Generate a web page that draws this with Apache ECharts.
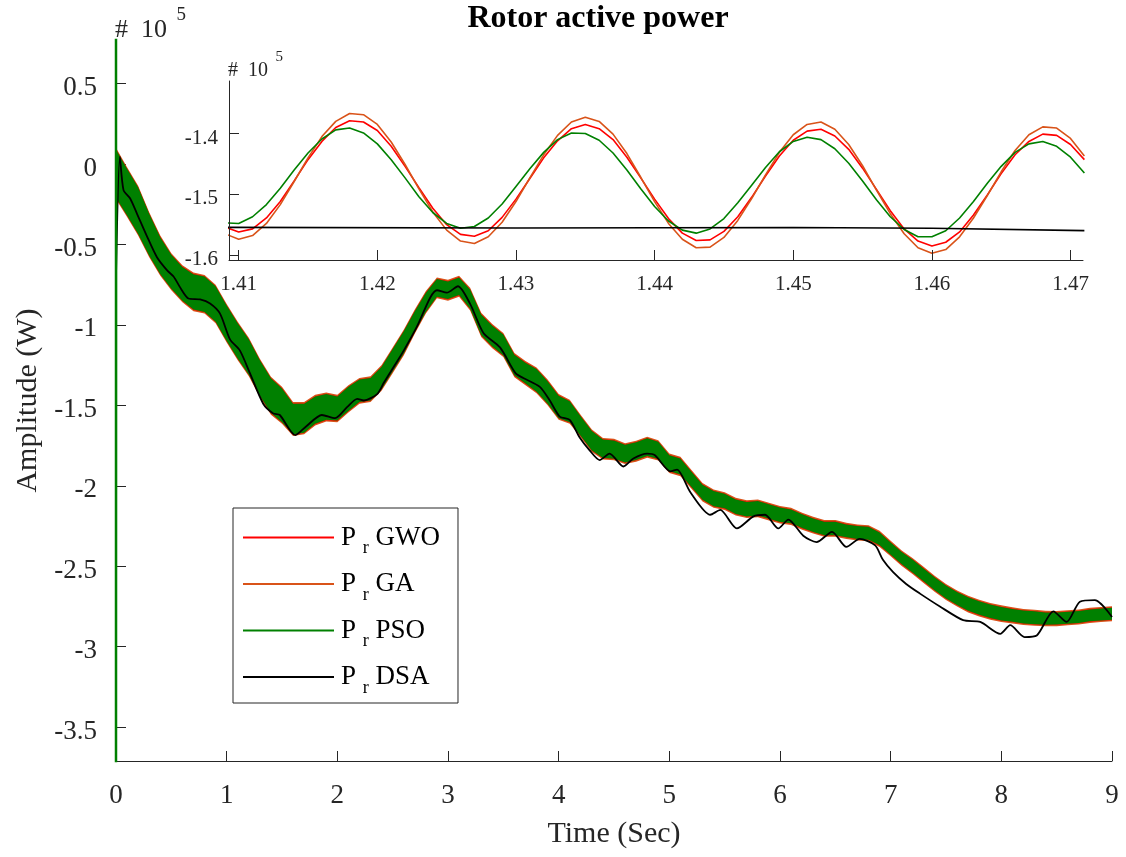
<!DOCTYPE html>
<html>
<head>
<meta charset="utf-8">
<title>Rotor active power</title>
<script src="https://cdn.jsdelivr.net/npm/echarts@6/dist/echarts.min.js"></script>
<style>
  html, body { margin: 0; padding: 0; background: #fff; }
  #chart { width: 1126px; height: 857px; }
</style>
</head>
<body>
<div id="chart"></div>
<script>
// values in units of 10^5 W
var bandTime = [0, 0.1, 0.2, 0.3, 0.4, 0.5, 0.6, 0.7, 0.8, 0.9,
  1, 1.1, 1.2, 1.3, 1.4, 1.5, 1.6, 1.7, 1.8, 1.9,
  2, 2.1, 2.2, 2.3, 2.4, 2.5, 2.6, 2.7, 2.8, 2.9,
  3, 3.1, 3.2, 3.3, 3.4, 3.5, 3.6, 3.7, 3.8, 3.9,
  4, 4.1, 4.2, 4.3, 4.4, 4.5, 4.6, 4.7, 4.8, 4.9,
  5, 5.1, 5.2, 5.3, 5.4, 5.5, 5.6, 5.7, 5.8, 5.9,
  6, 6.1, 6.2, 6.3, 6.4, 6.5, 6.6, 6.7, 6.8, 6.9,
  7, 7.1, 7.2, 7.3, 7.4, 7.5, 7.6, 7.7, 7.8, 7.9,
  8, 8.1, 8.2, 8.3, 8.4, 8.5, 8.6, 8.7, 8.8, 8.9,
  9];
// middle of the 60 Hz oscillation band (GWO / GA / PSO)
var bandMid = [-0.06, -0.175, -0.29, -0.44, -0.57, -0.67, -0.745, -0.795, -0.81, -0.87,
  -0.99, -1.10, -1.20, -1.33, -1.44, -1.50, -1.585, -1.58, -1.53, -1.51,
  -1.52, -1.46, -1.41, -1.40, -1.33, -1.22, -1.11, -0.98, -0.86, -0.77,
  -0.785, -0.76, -0.84, -1.00, -1.07, -1.125, -1.25, -1.30, -1.345, -1.42,
  -1.51, -1.54, -1.63, -1.72, -1.77, -1.775, -1.80, -1.785, -1.76, -1.78,
  -1.86, -1.88, -1.96, -2.04, -2.08, -2.095, -2.13, -2.145, -2.14, -2.16,
  -2.18, -2.19, -2.22, -2.245, -2.265, -2.265, -2.28, -2.29, -2.295, -2.33,
  -2.39, -2.45, -2.50, -2.555, -2.61, -2.66, -2.70, -2.735, -2.76, -2.78,
  -2.795, -2.805, -2.815, -2.82, -2.825, -2.825, -2.82, -2.815, -2.805, -2.80,
  -2.795];
// half height of the oscillation band of each method
var gaHalf = [0.16, 0.155, 0.155, 0.14, 0.125, 0.115, 0.115, 0.12, 0.12, 0.12,
  0.12, 0.12, 0.12, 0.12, 0.118, 0.115, 0.105, 0.10, 0.095, 0.09,
  0.085, 0.085, 0.08, 0.08, 0.08, 0.08, 0.08, 0.075, 0.07, 0.065,
  0.065, 0.065, 0.07, 0.075, 0.075, 0.075, 0.075, 0.075, 0.08, 0.08,
  0.08, 0.075, 0.07, 0.07, 0.067, 0.067, 0.065, 0.065, 0.065, 0.063,
  0.06, 0.06, 0.058, 0.057, 0.057, 0.055, 0.055, 0.055, 0.055, 0.055,
  0.055, 0.053, 0.053, 0.052, 0.052, 0.052, 0.05, 0.05, 0.05, 0.05,
  0.048, 0.048, 0.05, 0.05, 0.05, 0.05, 0.05, 0.052, 0.052, 0.052,
  0.052, 0.05, 0.05, 0.05, 0.048, 0.047, 0.047, 0.047, 0.047, 0.047,
  0.047];
var gwoHalf = [0.152, 0.147, 0.147, 0.132, 0.117, 0.107, 0.107, 0.112, 0.112, 0.112,
  0.112, 0.112, 0.112, 0.112, 0.11, 0.107, 0.097, 0.092, 0.087, 0.082,
  0.077, 0.077, 0.072, 0.072, 0.072, 0.072, 0.072, 0.067, 0.062, 0.057,
  0.057, 0.057, 0.062, 0.067, 0.067, 0.067, 0.067, 0.067, 0.072, 0.072,
  0.072, 0.067, 0.062, 0.062, 0.059, 0.059, 0.057, 0.057, 0.057, 0.055,
  0.052, 0.052, 0.05, 0.049, 0.049, 0.047, 0.047, 0.047, 0.047, 0.047,
  0.047, 0.045, 0.045, 0.044, 0.044, 0.044, 0.042, 0.042, 0.042, 0.042,
  0.04, 0.04, 0.042, 0.042, 0.042, 0.042, 0.042, 0.044, 0.044, 0.044,
  0.044, 0.042, 0.042, 0.042, 0.04, 0.039, 0.039, 0.039, 0.039, 0.039,
  0.039];
var psoHalf = [0.15, 0.145, 0.145, 0.13, 0.115, 0.105, 0.105, 0.11, 0.11, 0.11,
  0.11, 0.11, 0.11, 0.11, 0.108, 0.105, 0.095, 0.09, 0.085, 0.08,
  0.075, 0.075, 0.07, 0.07, 0.07, 0.07, 0.07, 0.065, 0.06, 0.055,
  0.055, 0.055, 0.06, 0.065, 0.065, 0.065, 0.065, 0.065, 0.07, 0.07,
  0.07, 0.065, 0.06, 0.06, 0.057, 0.057, 0.055, 0.055, 0.055, 0.053,
  0.05, 0.05, 0.048, 0.047, 0.047, 0.045, 0.045, 0.045, 0.045, 0.045,
  0.045, 0.043, 0.043, 0.042, 0.042, 0.042, 0.04, 0.04, 0.04, 0.04,
  0.038, 0.038, 0.04, 0.04, 0.04, 0.04, 0.04, 0.042, 0.042, 0.042,
  0.042, 0.04, 0.04, 0.04, 0.038, 0.037, 0.037, 0.037, 0.037, 0.037,
  0.037];
// start-up transient of PSO (runs off the axes)
var psoStartTime = [0, 0, 0.001];
var psoStartPower = [0.9, -3.9, -0.06];

var dsaTime = [0, 0.035, 0.068, 0.128, 0.19, 0.28, 0.37, 0.46, 0.52, 0.595,
  0.655, 0.76, 0.85, 0.94, 1.03, 1.12, 1.21, 1.33, 1.42, 1.48,
  1.62, 1.72, 1.86, 1.98, 2.09, 2.18, 2.24, 2.36, 2.42, 2.51,
  2.6, 2.72, 2.84, 2.9, 2.99, 3.09, 3.2, 3.32, 3.47, 3.61,
  3.68, 3.83, 3.92, 4.01, 4.1, 4.19, 4.28, 4.37, 4.46, 4.585,
  4.675, 4.8, 4.87, 5.01, 5.07, 5.19, 5.37, 5.46, 5.61, 5.76,
  5.865, 5.985, 6.075, 6.21, 6.33, 6.47, 6.6, 6.72, 6.86, 6.93,
  7.02, 7.14, 7.265, 7.445, 7.655, 7.81, 7.99, 8.08, 8.21, 8.32,
  8.47, 8.59, 8.71, 8.845, 9.0];
var dsaPower = [-0.70, 0.044, -0.163, -0.215, -0.31, -0.45, -0.58, -0.66, -0.70, -0.785,
  -0.836, -0.842, -0.867, -0.93, -1.09, -1.16, -1.30, -1.49, -1.55, -1.56,
  -1.685, -1.63, -1.56, -1.58, -1.51, -1.46, -1.47, -1.43, -1.36, -1.26,
  -1.16, -1.01, -0.83, -0.785, -0.80, -0.76, -0.87, -1.05, -1.14, -1.30,
  -1.33, -1.385, -1.47, -1.57, -1.59, -1.70, -1.78, -1.84, -1.80, -1.88,
  -1.83, -1.80, -1.81, -1.91, -1.90, -2.04, -2.18, -2.15, -2.265, -2.19,
  -2.18, -2.265, -2.21, -2.31, -2.35, -2.286, -2.38, -2.33, -2.37, -2.46,
  -2.535, -2.61, -2.67, -2.75, -2.835, -2.846, -2.92, -2.866, -2.94, -2.93,
  -2.78, -2.846, -2.72, -2.71, -2.815];

// zoomed view 1.41 .. 1.47 s
var insetTime = [1.409, 1.410, 1.411, 1.412, 1.413, 1.414, 1.415, 1.416, 1.417, 1.418,
  1.419, 1.420, 1.421, 1.422, 1.423, 1.424, 1.425, 1.426, 1.427, 1.428,
  1.429, 1.430, 1.431, 1.432, 1.433, 1.434, 1.435, 1.436, 1.437, 1.438,
  1.439, 1.440, 1.441, 1.442, 1.443, 1.444, 1.445, 1.446, 1.447, 1.448,
  1.449, 1.450, 1.451, 1.452, 1.453, 1.454, 1.455, 1.456, 1.457, 1.458,
  1.459, 1.460, 1.461, 1.462, 1.463, 1.464, 1.465, 1.466, 1.467, 1.468,
  1.469, 1.470, 1.471];
var insetGWO = [-1.554, -1.562, -1.557, -1.539, -1.512, -1.478, -1.443, -1.413, -1.390, -1.379,
  -1.381, -1.395, -1.421, -1.454, -1.489, -1.523, -1.550, -1.566, -1.569, -1.560,
  -1.538, -1.508, -1.474, -1.440, -1.412, -1.392, -1.385, -1.392, -1.410, -1.439,
  -1.473, -1.508, -1.540, -1.564, -1.576, -1.575, -1.561, -1.537, -1.505, -1.470,
  -1.437, -1.411, -1.396, -1.393, -1.404, -1.426, -1.457, -1.492, -1.527, -1.557,
  -1.577, -1.585, -1.579, -1.562, -1.534, -1.501, -1.466, -1.435, -1.413, -1.401,
  -1.403, -1.418, -1.443];
var insetGA = [-1.565, -1.574, -1.568, -1.548, -1.517, -1.479, -1.440, -1.405, -1.380, -1.367,
  -1.369, -1.385, -1.414, -1.451, -1.491, -1.529, -1.559, -1.577, -1.581, -1.570,
  -1.546, -1.512, -1.473, -1.435, -1.403, -1.381, -1.373, -1.380, -1.401, -1.433,
  -1.472, -1.512, -1.548, -1.574, -1.588, -1.587, -1.571, -1.543, -1.507, -1.468,
  -1.431, -1.402, -1.385, -1.381, -1.393, -1.418, -1.453, -1.493, -1.532, -1.565,
  -1.588, -1.597, -1.591, -1.570, -1.539, -1.502, -1.463, -1.428, -1.402, -1.389,
  -1.391, -1.408, -1.437];
var insetPSO = [-1.547, -1.548, -1.537, -1.517, -1.490, -1.460, -1.432, -1.409, -1.394, -1.391,
  -1.399, -1.417, -1.443, -1.473, -1.504, -1.530, -1.548, -1.556, -1.553, -1.539,
  -1.516, -1.487, -1.458, -1.431, -1.410, -1.399, -1.400, -1.411, -1.432, -1.460,
  -1.491, -1.520, -1.544, -1.559, -1.564, -1.557, -1.540, -1.514, -1.485, -1.456,
  -1.430, -1.413, -1.406, -1.410, -1.425, -1.449, -1.478, -1.509, -1.537, -1.558,
  -1.570, -1.570, -1.560, -1.539, -1.512, -1.482, -1.454, -1.431, -1.417, -1.413,
  -1.421, -1.439, -1.465];
var insetDsaTime = [1.409, 1.43, 1.45, 1.46, 1.471];
var insetDsaPower = [-1.5545, -1.5555, -1.5548, -1.556, -1.5598];

var mainYTicks = [-3.5, -3, -2.5, -2, -1.5, -1, -0.5, 0, 0.5];
var insetXTicks = [1.41, 1.42, 1.43, 1.44, 1.45, 1.46, 1.47];
var insetYTicks = [-1.6, -1.5, -1.4];
var methods = ['GWO', 'GA', 'PSO', 'DSA'];

var FONT = "'Liberation Serif', 'Times New Roman', serif";
var AXIS = '#262626';
var RED = '#ff0000', ORANGE = '#d95319', GREEN = '#008000', BLACK = '#000000';

function pairs(xs, ys) {
  return xs.map(function (x, i) { return [x, ys[i]]; });
}

// oscillation envelope of one method, drawn as one filled polygon
function band(name, color, half) {
  var data = bandTime.map(function (t, i) {
    return [t, bandMid[i] - half[i], bandMid[i] + half[i]];
  });
  return {
    name: name, type: 'custom', color: color, clip: true,
    data: data,
    encode: { x: 0, y: [1, 2] },
    renderItem: function (params, api) {
      if (params.dataIndex !== 0) {
        return;
      }
      var top = data.map(function (d) { return api.coord([d[0], d[2]]); });
      var bottom = data.map(function (d) { return api.coord([d[0], d[1]]); }).reverse();
      return {
        type: 'polygon',
        shape: { points: top.concat(bottom) },
        style: { fill: color }
      };
    }
  };
}

function insetLine(name, color, xs, ys) {
  return {
    name: name, type: 'line', xAxisIndex: 1, yAxisIndex: 1,
    data: pairs(xs, ys), symbol: 'none', color: color, z: 6,
    lineStyle: { color: color, width: 1.6 }
  };
}

var tickLabel = { fontFamily: FONT, fontSize: 27, color: AXIS };
var insetLabel = { fontFamily: FONT, fontSize: 21, color: AXIS };

var myChart = echarts.init(document.getElementById('chart'));

var option = {
  animation: false,
  backgroundColor: '#fff',
  graphic: [{
    type: 'text', x: 598, y: 19,
    style: {
      text: 'Rotor active power', font: 'bold 32px ' + FONT, fill: '#000',
      align: 'center', verticalAlign: 'middle'
    }
  }, {
    type: 'text', left: 115, top: 6,
    style: {
      text: '{a|#  10}{s|  5}', fill: AXIS,
      rich: {
        a: { fontFamily: FONT, fontSize: 26, lineHeight: 37, verticalAlign: 'bottom', color: AXIS },
        s: { fontFamily: FONT, fontSize: 19, lineHeight: 15, verticalAlign: 'top', color: AXIS }
      }
    }
  }, {
    type: 'text', left: 228, top: 50, z: 10,
    style: {
      text: '{a|#  10}{s|  5}', fill: AXIS,
      rich: {
        a: { fontFamily: FONT, fontSize: 20, lineHeight: 31, verticalAlign: 'bottom', color: AXIS },
        s: { fontFamily: FONT, fontSize: 15, lineHeight: 10, verticalAlign: 'top', color: AXIS }
      }
    }
  }],
  legend: {
    data: methods,
    orient: 'vertical',
    left: 233, top: 508,
    padding: [16, 18, 6, 10],
    itemGap: 13,
    itemWidth: 91, itemHeight: 2,
    icon: 'rect',
    backgroundColor: '#fff',
    borderColor: AXIS, borderWidth: 1, borderRadius: 0,
    formatter: function (name) { return '{p|P }{r|r}{p| ' + name + '}'; },
    textStyle: {
      color: '#000',
      padding: [0, 0, 0, 2],
      rich: {
        p: { fontFamily: FONT, fontSize: 27, lineHeight: 40, verticalAlign: 'middle', color: '#000' },
        r: { fontFamily: FONT, fontSize: 18, lineHeight: 10, verticalAlign: 'bottom', color: '#000' }
      }
    }
  },
  grid: [
    { left: 116, right: 14, top: 40, bottom: 96 },
    { left: 229, right: 43, top: 81, bottom: 597, show: true, backgroundColor: '#fff', borderWidth: 0, z: 5 }
  ],
  xAxis: [{
    type: 'value', gridIndex: 0, min: 0, max: 9, interval: 1,
    name: 'Time (Sec)', nameLocation: 'middle', nameGap: 58,
    nameTextStyle: { fontFamily: FONT, fontSize: 30, color: AXIS },
    axisLine: { onZero: false, lineStyle: { color: AXIS, width: 1 } },
    axisTick: { inside: true, length: 10, lineStyle: { color: AXIS } },
    axisLabel: Object.assign({ margin: 21 }, tickLabel),
    splitLine: { show: false }
  }, {
    type: 'value', gridIndex: 1, min: 1.4093, max: 1.4709, z: 10,
    axisLine: { onZero: false, lineStyle: { color: AXIS, width: 1 } },
    axisTick: { inside: true, length: 10, customValues: insetXTicks, lineStyle: { color: AXIS } },
    axisLabel: Object.assign({
      margin: 14, customValues: insetXTicks,
      formatter: function (v) { return v.toFixed(2); }
    }, insetLabel),
    splitLine: { show: false }
  }],
  yAxis: [{
    type: 'value', gridIndex: 0, min: -3.71, max: 0.77,
    name: 'Amplitude (W)', nameLocation: 'middle', nameGap: 72,
    nameTextStyle: { fontFamily: FONT, fontSize: 30, color: AXIS },
    axisLine: { show: true, onZero: false, lineStyle: { color: AXIS, width: 1 } },
    axisTick: { show: true, inside: true, length: 10, customValues: mainYTicks, lineStyle: { color: AXIS } },
    axisLabel: Object.assign({
      margin: 19, customValues: mainYTicks, verticalAlign: 'top', lineHeight: 9,
      formatter: function (v) { return String(v); }
    }, tickLabel),
    splitLine: { show: false }
  }, {
    type: 'value', gridIndex: 1, min: -1.6082, max: -1.3135, z: 10,
    axisLine: { show: true, onZero: false, lineStyle: { color: AXIS, width: 1 } },
    axisTick: { show: true, inside: true, length: 10, customValues: insetYTicks, lineStyle: { color: AXIS } },
    axisLabel: Object.assign({
      margin: 11, customValues: insetYTicks, verticalAlign: 'top', lineHeight: 9,
      formatter: function (v) { return v.toFixed(1); }
    }, insetLabel),
    splitLine: { show: false }
  }],
  series: [
    band('GA', ORANGE, gaHalf),
    band('GWO', RED, gwoHalf),
    band('PSO', GREEN, psoHalf),
    {
      name: 'DSA', type: 'line', data: pairs(dsaTime, dsaPower),
      symbol: 'none', smooth: 0.25, color: BLACK,
      lineStyle: { color: BLACK, width: 1.8 }
    }, {
      name: 'PSO start', type: 'line', data: pairs(psoStartTime, psoStartPower),
      symbol: 'none', color: GREEN, silent: true,
      lineStyle: { color: GREEN, width: 2.5 }
    },
    insetLine('GWO', RED, insetTime, insetGWO),
    insetLine('GA', ORANGE, insetTime, insetGA),
    insetLine('PSO', GREEN, insetTime, insetPSO),
    insetLine('DSA', BLACK, insetDsaTime, insetDsaPower)
  ]
};

myChart.setOption(option);
</script>
</body>
</html>
